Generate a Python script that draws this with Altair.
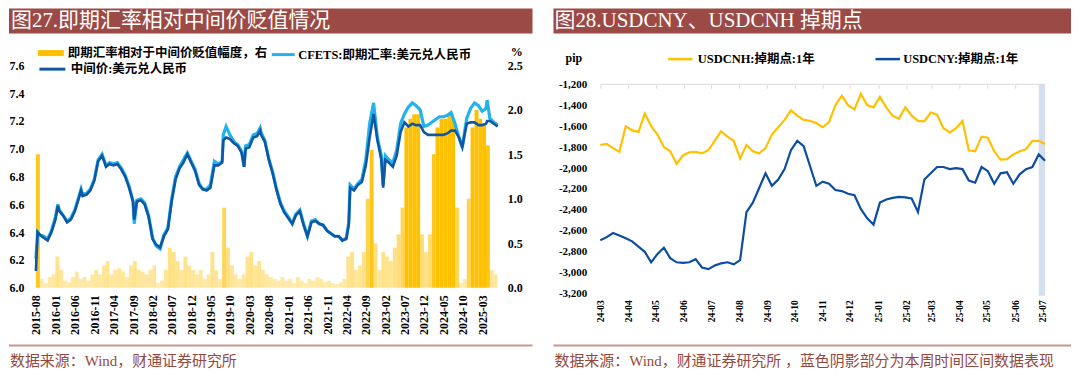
import altair as alt
import pandas as pd

# ---------------- Left chart (图27) data ----------------
LINE_DATES = [
    "2015-08-01", "2015-08-14", "2015-09-01", "2015-10-01", "2015-11-01", "2015-12-01",
    "2016-01-01", "2016-01-20", "2016-02-01", "2016-03-01", "2016-04-01", "2016-05-01",
    "2016-06-01", "2016-07-01", "2016-07-20", "2016-08-01", "2016-09-01", "2016-10-01",
    "2016-11-01", "2016-12-01",
    "2017-01-01", "2017-02-01", "2017-03-01", "2017-04-01", "2017-05-01", "2017-06-01",
    "2017-07-01", "2017-08-01", "2017-09-01", "2017-09-10", "2017-10-01", "2017-11-01", "2017-12-01",
    "2018-01-01", "2018-02-01", "2018-03-01", "2018-04-01", "2018-05-01", "2018-06-01",
    "2018-07-01", "2018-08-01", "2018-09-01", "2018-10-01", "2018-11-01", "2018-12-01",
    "2019-01-01", "2019-02-01", "2019-03-01", "2019-04-01", "2019-05-01", "2019-06-01",
    "2019-07-01", "2019-08-01", "2019-08-10", "2019-09-01", "2019-10-01", "2019-11-01", "2019-12-01",
    "2020-01-01", "2020-01-20", "2020-02-01", "2020-03-01", "2020-04-01", "2020-05-01", "2020-05-25",
    "2020-06-01", "2020-07-01", "2020-08-01", "2020-09-01", "2020-10-01", "2020-11-01", "2020-12-01",
    "2021-01-01", "2021-02-01", "2021-03-01", "2021-04-01", "2021-05-01", "2021-05-31",
    "2021-07-01", "2021-08-01", "2021-09-01", "2021-10-01", "2021-11-01", "2021-12-01",
    "2022-01-01", "2022-02-01", "2022-03-01", "2022-04-01", "2022-04-20", "2022-05-01",
    "2022-06-01", "2022-07-01", "2022-08-01", "2022-09-01", "2022-10-01", "2022-11-01", "2022-12-01",
    "2023-01-01", "2023-01-15", "2023-02-01", "2023-03-01", "2023-04-01", "2023-05-01", "2023-06-01",
    "2023-07-01", "2023-08-01", "2023-09-01", "2023-10-01", "2023-11-01", "2023-12-01",
    "2024-01-01", "2024-02-01", "2024-03-01", "2024-04-01", "2024-05-01", "2024-06-01",
    "2024-07-01", "2024-08-01", "2024-09-01", "2024-09-27", "2024-10-15", "2024-11-01", "2024-12-01",
    "2025-01-01", "2025-02-01", "2025-03-01", "2025-04-01", "2025-04-10", "2025-05-01", "2025-06-01",
    "2025-07-01",
]
# 中间价:美元兑人民币
MID = [
    6.12, 6.40, 6.38, 6.36, 6.34, 6.40,
    6.49, 6.59, 6.55, 6.52, 6.47, 6.49, 6.55, 6.64, 6.70, 6.66, 6.67, 6.70, 6.77, 6.91,
    6.95, 6.87, 6.89, 6.88, 6.89, 6.85, 6.80, 6.72, 6.62, 6.49, 6.62, 6.63, 6.60,
    6.51, 6.35, 6.31, 6.29, 6.37, 6.42, 6.62, 6.78, 6.86, 6.90, 6.96, 6.90,
    6.84, 6.74, 6.71, 6.70, 6.72, 6.88, 6.88, 6.90, 7.06, 7.08, 7.07, 7.04, 7.02,
    6.97, 6.87, 7.00, 7.01, 7.08, 7.09, 7.13, 7.10, 7.05, 6.92, 6.82, 6.70, 6.60, 6.54,
    6.50, 6.46, 6.52, 6.55, 6.45, 6.37, 6.47, 6.48, 6.46, 6.45, 6.41, 6.39,
    6.37, 6.37, 6.34, 6.35, 6.45, 6.72, 6.70, 6.74, 6.76, 6.88, 7.08, 7.25, 7.06,
    6.92, 6.72, 6.92, 6.90, 6.87, 6.95, 7.12, 7.19, 7.16, 7.18, 7.17, 7.17, 7.12,
    7.10, 7.10, 7.10, 7.10, 7.10, 7.11, 7.13, 7.13, 7.08, 7.01, 7.10, 7.18, 7.19,
    7.19, 7.17, 7.17, 7.18, 7.20, 7.20, 7.18, 7.16,
]
# CFETS:即期汇率:美元兑人民币
SPOT = [
    6.21, 6.40, 6.38, 6.37, 6.35, 6.41,
    6.51, 6.60, 6.56, 6.52, 6.48, 6.50, 6.56, 6.65, 6.71, 6.67, 6.68, 6.71, 6.78, 6.92,
    6.96, 6.88, 6.90, 6.89, 6.90, 6.86, 6.81, 6.73, 6.62, 6.46, 6.63, 6.64, 6.61,
    6.52, 6.36, 6.30, 6.28, 6.38, 6.43, 6.64, 6.80, 6.87, 6.92, 6.97, 6.91,
    6.85, 6.75, 6.71, 6.71, 6.74, 6.91, 6.89, 6.91, 7.10, 7.16, 7.10, 7.05, 7.03,
    6.98, 6.87, 7.02, 7.03, 7.10, 7.11, 7.15, 7.12, 7.06, 6.93, 6.83, 6.71, 6.61, 6.55,
    6.51, 6.46, 6.53, 6.56, 6.46, 6.37, 6.48, 6.49, 6.46, 6.45, 6.41, 6.39,
    6.37, 6.37, 6.34, 6.36, 6.47, 6.74, 6.71, 6.75, 6.78, 6.92, 7.18, 7.33, 7.08,
    6.95, 6.74, 6.95, 6.92, 6.90, 6.99, 7.18, 7.25, 7.30, 7.33, 7.31, 7.28, 7.16,
    7.17, 7.19, 7.21, 7.23, 7.23, 7.24, 7.26, 7.18, 7.08, 7.01, 7.12, 7.22, 7.29,
    7.33, 7.31, 7.27, 7.29, 7.35, 7.22, 7.19, 7.17,
]
# 即期汇率相对于中间价贬值幅度 (%), monthly from 2015-08
DEP_START = "2015-08-01"
DEP = [
    1.50, 0.10, 0.05, 0.12, 0.15,
    0.35, 0.20, 0.08, 0.06, 0.12, 0.18, 0.10, 0.12, 0.08, 0.15, 0.20, 0.15,
    0.25, 0.30, 0.15, 0.20, 0.22, 0.18, 0.12, 0.25, 0.30, 0.20, 0.18, 0.15,
    0.20, 0.25, 0.05, 0.08, 0.20, 0.45, 0.40, 0.30, 0.20, 0.35, 0.25, 0.20,
    0.15, 0.20, 0.10, 0.15, 0.40, 0.20, 0.10, 0.90, 0.45, 0.25, 0.15, 0.10,
    0.15, 0.35, 0.40, 0.25, 0.30, 0.20, 0.15, 0.12, 0.10, 0.08, 0.12, 0.08,
    0.10, 0.05, 0.12, 0.08, 0.05, 0.10, 0.08, 0.12, 0.10, 0.06, 0.08, 0.05,
    0.04, 0.06, 0.10, 0.35, 0.40, 0.20, 0.25, 0.40, 1.00, 1.55, 0.50, 0.20,
    0.40, 0.35, 0.30, 0.45, 0.60, 0.90, 1.80, 1.90, 1.95, 1.95, 0.60, 0.40,
    0.60, 1.50, 1.80, 1.90, 1.90, 1.95, 1.90, 0.90, 0.05, 0.10, 1.00, 1.80,
    2.00, 1.90, 1.85, 1.60, 0.20, 0.15,
]
LEFT_TICKS = ["2015-08", "2016-01", "2016-06", "2016-11", "2017-04", "2017-09", "2018-02",
              "2018-07", "2018-12", "2019-05", "2019-10", "2020-03", "2020-08", "2021-01",
              "2021-06", "2021-11", "2022-04", "2022-09", "2023-02", "2023-07", "2023-12",
              "2024-05", "2024-10", "2025-03"]
LEFT_Y = [6.0, 6.2, 6.4, 6.6, 6.8, 7.0, 7.2, 7.4, 7.6]
RIGHT_Y2 = [0.0, 0.5, 1.0, 1.5, 2.0, 2.5]
NAME_BAR = "即期汇率相对于中间价贬值幅度，右"
NAME_SPOT = "CFETS:即期汇率:美元兑人民币"
NAME_MID = "中间价:美元兑人民币"

# ---------------- Right chart (图28) data ----------------
WEEK_START = "2024-03-01"
CNH = [-1780, -1770, -1810, -1845, -1600, -1640, -1655, -1480, -1600, -1680,
       -1800, -1840, -1960, -1880, -1850, -1845, -1860, -1830, -1740, -1650,
       -1700, -1740, -1910, -1780, -1840, -1860, -1810, -1680, -1610, -1540,
       -1450, -1500, -1540, -1550, -1570, -1610, -1560, -1400, -1310, -1400,
       -1440, -1290, -1400, -1420, -1320, -1420, -1500, -1530, -1420, -1500,
       -1550, -1555, -1470, -1490, -1620, -1660, -1620, -1550, -1830, -1840,
       -1700, -1710, -1840, -1920, -1915, -1870, -1840, -1820, -1740, -1740, -1770]
CNY = [-2690, -2660, -2620, -2645, -2670, -2700, -2750, -2800, -2900, -2820,
       -2760, -2860, -2900, -2905, -2900, -2870, -2950, -2965, -2930, -2910,
       -2900, -2920, -2880, -2420, -2330, -2190, -2050, -2170, -2110, -2010,
       -1830, -1740, -1790, -1980, -2170, -2130, -2150, -2210, -2220, -2245,
       -2260, -2390, -2480, -2540, -2330, -2300, -2285, -2275, -2280, -2290,
       -2420, -2110, -2050, -1990, -1990, -2010, -2000, -2010, -2120, -2140,
       -1990, -2030, -2150, -2050, -2040, -2150, -2060, -2010, -1990, -1870, -1930]
RIGHT_TICKS = ["24-03", "24-04", "24-05", "24-06", "24-07", "24-08", "24-09", "24-10",
               "24-11", "24-12", "25-01", "25-02", "25-03", "25-04", "25-05", "25-06", "25-07"]
RIGHT_Y = [-3200, -3000, -2800, -2600, -2400, -2200, -2000, -1800, -1600, -1400, -1200]
BAND_START, BAND_END = "2025-06-27", "2025-07-04"
NAME_CNH = "USDCNH:掉期点:1年"
NAME_CNY = "USDCNY:掉期点:1年"

# ---------------- styles ----------------
SERIF = "Liberation Serif"
MIX = "Liberation Serif, Noto Sans CJK SC"
TITLE_BG = "#9C4A45"
RULE_C = "#C9968F"
SRC_C = "#94493E"
YEL = "#FFC000"
LIGHT = "#22B2EE"
DARK = "#0F57A5"
BLUE = "#0D4DA1"
BAND_C = "#D3DEF1"
GRID_C = "#D9D9D9"
BAR_SYMBOL = "M-1,-0.23L1,-0.23L1,0.23L-1,0.23Z"


def ms(s):
    return int(pd.Timestamp(s).value // 10**6)


def lit(s):
    return "'" + s + "'"


one = pd.DataFrame({"k": [0]})

# ================= LEFT =================
LW, LH = 463, 223
line_df = pd.DataFrame({"date": LINE_DATES, "mid": MID, "spot": SPOT})
bar_df = pd.DataFrame({
    "date": pd.date_range(DEP_START, periods=len(DEP), freq="MS").strftime("%Y-%m-%d"),
    "dep": DEP,
})

xl = alt.Scale(type="utc", domain=[ms("2015-08-01"), ms("2025-07-01")])
ax_xl = alt.Axis(values=[ms(t + "-01") for t in LEFT_TICKS], format="%Y-%m", labelAngle=270,
                 labelFont=SERIF, labelFontWeight="bold", labelFontSize=12, labelColor="#000000",
                 labelPadding=7, ticks=False, domain=False, grid=False, title=None,
                 labelOverlap=False, labelFlush=False)
yl = alt.Scale(domain=[6.0, 7.6], nice=False, zero=False)
ax_yl = alt.Axis(orient="left", values=LEFT_Y, format=".1f", labelFont=SERIF, labelFontWeight="bold",
                 labelFontSize=12, labelColor="#000000", labelPadding=12, ticks=False, domain=False,
                 grid=False, title=None, labelFlush=False)
ax_yr = alt.Axis(orient="right", values=RIGHT_Y2, format=".1f", labelFont=SERIF, labelFontWeight="bold",
                 labelFontSize=12, labelColor="#000000", labelPadding=9.7, ticks=False, domain=False,
                 grid=False, labelFlush=False, title="%", titleAngle=0, titleX=18.7, titleY=-14,
                 titleAlign="center", titleBaseline="middle", titleFont=SERIF, titleFontSize=12,
                 titleFontWeight="bold", titleColor="#000000")


def leg(x, y, size, shape, sw, offset):
    return alt.Legend(orient="none", legendX=x, legendY=y, title=None, symbolType=shape,
                      symbolSize=size, symbolStrokeWidth=sw, symbolOpacity=1, labelFont=MIX,
                      labelFontSize=12.5, labelFontWeight="bold", labelColor="#000000",
                      labelOffset=offset, labelLimit=500, padding=0)


bars = alt.Chart(bar_df).transform_calculate(
    end="utcOffset('month', toDate(datum.date), 1)",
    series=lit(NAME_BAR),
).mark_bar(strokeWidth=0).encode(
    x=alt.X("date:T", scale=xl, axis=ax_xl),
    x2=alt.X2("end"),
    y=alt.Y("dep:Q", scale=alt.Scale(domain=[0, 2.5], nice=False), axis=ax_yr),
    y2=alt.datum(0),
    fill=alt.Fill("series:N", scale=alt.Scale(range=[YEL]),
                  legend=leg(2, -25.3, 676, BAR_SYMBOL, 0, 4)),
    opacity=alt.Opacity("dep:Q", scale=alt.Scale(domain=[0, 1.8], range=[0.32, 1.0], clamp=True),
                        legend=None),
)
spot_line = alt.Chart(line_df).transform_calculate(series=lit(NAME_SPOT)).mark_line(strokeWidth=3.2).encode(
    x=alt.X("date:T", scale=xl, axis=ax_xl),
    y=alt.Y("spot:Q", scale=yl, axis=ax_yl),
    stroke=alt.Stroke("series:N", scale=alt.Scale(range=[LIGHT]),
                      legend=leg(235, -23.8, 529, "stroke", 3, 2)),
)
mid_line = alt.Chart(line_df).transform_calculate(series=lit(NAME_MID)).mark_line(strokeWidth=2.6).encode(
    x=alt.X("date:T", scale=xl, axis=ax_xl),
    y=alt.Y("mid:Q", scale=yl, axis=ax_yl),
    color=alt.Color("series:N", scale=alt.Scale(range=[DARK]),
                    legend=leg(2, -10.7, 676, "stroke", 3, 4)),
)

l_rect = alt.Chart(one).mark_rect(color=TITLE_BG).encode(
    x=alt.value(-27), x2=alt.value(498), y=alt.value(-57), y2=alt.value(-32))
l_title = alt.Chart(one).mark_text(text="图27.即期汇率相对中间价贬值情况", align="left",
                                   baseline="middle", font=MIX, fontSize=21, color="white").encode(
    x=alt.value(-25), y=alt.value(-44.5))
l_rule = alt.Chart(one).mark_rule(color=RULE_C, strokeWidth=2).encode(
    x=alt.value(-27), x2=alt.value(498), y=alt.value(281))
l_src = alt.Chart(one).mark_text(text="数据来源：Wind，财通证券研究所", align="left",
                                 baseline="middle", font=MIX, fontSize=15, color=SRC_C).encode(
    x=alt.value(-26), y=alt.value(296))

left = alt.layer(
    bars, alt.layer(spot_line, mid_line), l_rect, l_title, l_rule, l_src
).resolve_scale(y="independent").properties(width=LW, height=LH)

# ================= RIGHT =================
# plot area starts 19px above the -1,200 line so both panels share one top edge
RW, RH = 446, 229
TOP_GAP = 19
r_df = pd.DataFrame({
    "date": pd.date_range(WEEK_START, periods=len(CNH), freq="7D").strftime("%Y-%m-%d"),
    "cnh": CNH, "cny": CNY,
})
band_df = pd.DataFrame({"start": [BAND_START], "end": [BAND_END]})
month_vals = [ms("20" + t + "-01") for t in RIGHT_TICKS]

xr = alt.Scale(type="utc", domain=[ms("2024-03-01"), ms("2025-07-04")])
ax_bot = alt.Axis(orient="bottom", values=month_vals, format="%y-%m", labelAngle=270,
                  labelFont=SERIF, labelFontWeight="bold", labelFontSize=9.5, labelColor="#000000",
                  labelPadding=6, ticks=False, domain=False, grid=False, title=None,
                  labelOverlap=False, labelFlush=False)
ax_top = alt.Axis(orient="top", values=month_vals, labels=False, ticks=True, tickSize=4,
                  tickColor=GRID_C, domain=False, grid=False, title=None, offset=-(TOP_GAP + 4))
y_top = -1200 + TOP_GAP * 2000 / (RH - TOP_GAP)
yr = alt.Scale(domain=[-3200, y_top], nice=False, zero=False)
ax_yr2 = alt.Axis(values=RIGHT_Y, labelExpr="replace(format(datum.value, ','), '\u2212', '-')",
                  labelFont=SERIF, labelFontWeight="bold", labelFontSize=11, labelColor="#000000",
                  labelPadding=13.6, ticks=False, domain=False, grid=False, labelFlush=False,
                  title="pip", titleAngle=0, titleX=-27, titleY=-7.5, titleAlign="center",
                  titleBaseline="middle", titleFont=SERIF, titleFontSize=12, titleFontWeight="bold",
                  titleColor="#000000")

band = alt.Chart(band_df).mark_rect(color=BAND_C).encode(
    x=alt.X("start:T", scale=xr, axis=ax_top), x2=alt.X2("end"),
    y=alt.value(TOP_GAP), y2=alt.value(RH + 2))
top_rule = alt.Chart(one).mark_rule(color=GRID_C, strokeWidth=1).encode(
    x=alt.value(0), x2=alt.value(RW), y=alt.value(TOP_GAP))
cnh_line = alt.Chart(r_df).transform_calculate(series=lit(NAME_CNH)).mark_line(strokeWidth=2.2).encode(
    x=alt.X("date:T", scale=xr, axis=ax_bot),
    y=alt.Y("cnh:Q", scale=yr, axis=ax_yr2),
    color=alt.Color("series:N", scale=alt.Scale(range=[YEL]),
                    legend=leg(66.7, -19.75, 600, "stroke", 2.5, 4)),
)
cny_line = alt.Chart(r_df).transform_calculate(series=lit(NAME_CNY)).mark_line(strokeWidth=2.2).encode(
    x=alt.X("date:T", scale=xr, axis=ax_bot),
    y=alt.Y("cny:Q", scale=yr, axis=ax_yr2),
    stroke=alt.Stroke("series:N", scale=alt.Scale(range=[BLUE]),
                      legend=leg(274.7, -19.75, 600, "stroke", 2.5, 2)),
)

r_rect = alt.Chart(one).mark_rect(color=TITLE_BG).encode(
    x=alt.value(-47), x2=alt.value(472), y=alt.value(-57), y2=alt.value(-32))
r_title = alt.Chart(one).mark_text(text="图28.USDCNY、USDCNH 掉期点", align="left",
                                   baseline="middle", font=MIX, fontSize=21, color="white").encode(
    x=alt.value(-46), y=alt.value(-44.5))
r_rule = alt.Chart(one).mark_rule(color=RULE_C, strokeWidth=2).encode(
    x=alt.value(-47), x2=alt.value(472), y=alt.value(281))
r_src = alt.Chart(one).mark_text(text="数据来源：Wind，财通证券研究所 ，蓝色阴影部分为本周时间区间数据表现",
                                 align="left", baseline="middle", font=MIX, fontSize=15,
                                 color=SRC_C).encode(x=alt.value(-46), y=alt.value(296))

right = alt.layer(
    band, top_rule, alt.layer(cnh_line, cny_line), r_rect, r_title, r_rule, r_src
).resolve_axis(x="independent").properties(width=RW, height=RH)

chart = alt.hconcat(left, right, spacing=19).resolve_scale(
    x="independent", y="independent", color="independent", fill="independent",
    stroke="independent", opacity="independent"
).resolve_legend(
    color="independent", fill="independent", stroke="independent"
).properties(padding=0, background="white").configure_view(strokeWidth=0)

chart.save("out.html", embed_options={"renderer": "svg", "actions": False})
